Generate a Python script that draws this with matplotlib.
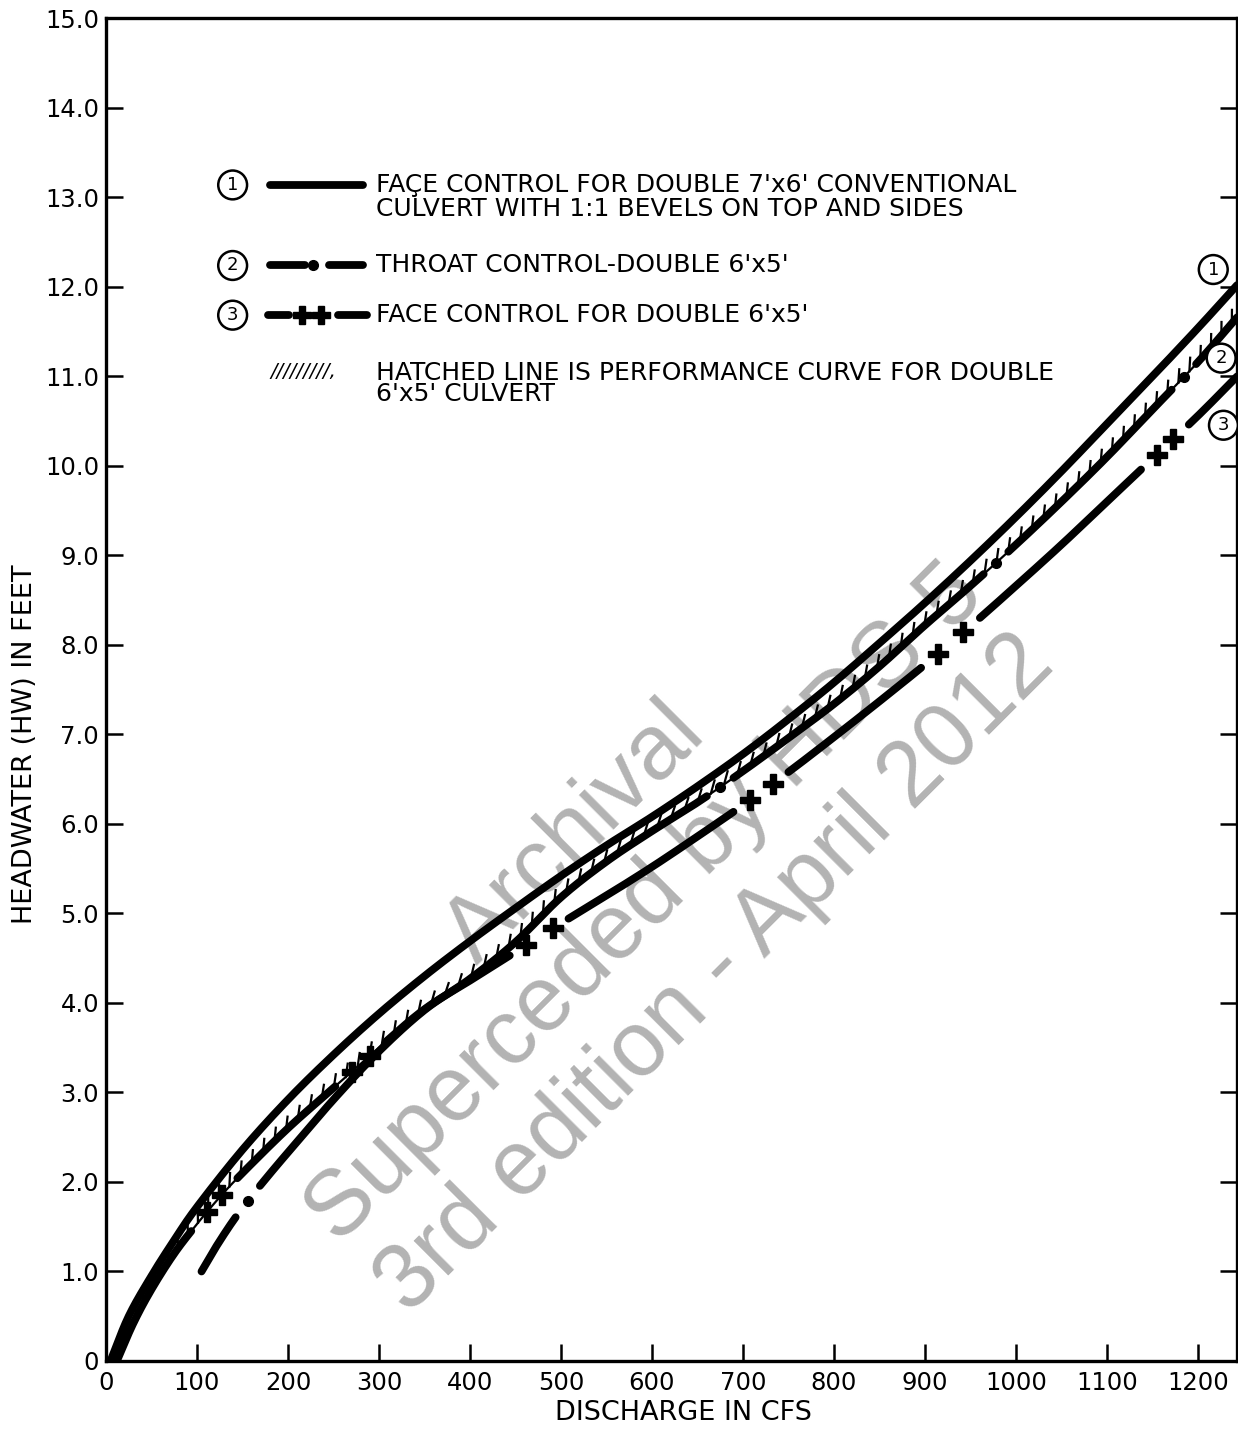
import numpy as np
import matplotlib
matplotlib.use("Agg")
import matplotlib.pyplot as plt
from matplotlib import patheffects

plt.rcParams['font.family'] = ['DejaVu Sans']

# curve 1: face control, double 7'x6' conventional culvert with bevels
c1_x = [5, 25, 50, 75, 100, 150, 200, 250, 300, 350, 400, 450, 500, 550, 600, 650,
        700, 750, 800, 850, 900, 950, 1000, 1050, 1100, 1150, 1200, 1243]
c1_y = [0, 0.5, 0.95, 1.35, 1.72, 2.36, 2.92, 3.42, 3.88, 4.3, 4.69, 5.06, 5.42, 5.76,
        6.08, 6.42, 6.78, 7.17, 7.58, 8.02, 8.47, 8.94, 9.43, 9.94, 10.47, 11.0, 11.54,
        12.02]

# curve 2: throat control, double 6'x5'
c2_x = [105, 120, 140, 160, 180, 200, 250, 300, 350, 400, 450, 500, 550, 600, 650,
        700, 750, 800, 850, 900, 950, 1000, 1050, 1100, 1150, 1200, 1243]
c2_y = [1.0, 1.26, 1.57, 1.84, 2.09, 2.33, 2.92, 3.46, 3.92, 4.27, 4.68, 5.18, 5.58,
        5.92, 6.24, 6.59, 6.96, 7.34, 7.76, 8.22, 8.66, 9.12, 9.6, 10.1, 10.63, 11.16,
        11.66]
# dots that break curve 2 into its long dashes
c2_dot_x = [156, 675, 978, 1185]

# curve 3: face control, double 6'x5'
c3_x = [12, 30, 50, 75, 100, 125, 150, 200, 250, 300, 350, 400, 450, 500, 550, 600,
        650, 700, 750, 800, 850, 900, 950, 1000, 1050, 1100, 1150, 1200, 1243]
c3_y = [0, 0.42, 0.8, 1.2, 1.53, 1.83, 2.1, 2.6, 3.05, 3.5, 3.93, 4.25, 4.57, 4.89,
        5.2, 5.52, 5.86, 6.21, 6.58, 6.97, 7.37, 7.78, 8.21, 8.66, 9.12, 9.6, 10.08,
        10.56, 11.0]
# pairs of crosses along curve 3
cross_x = [111, 127, 270, 290, 462, 491, 708, 733, 914, 942, 1155, 1173]

y_ticks = list(range(0, 16))
y_labels = ['0'] + [f'{v}.0' for v in range(1, 16)]
x_ticks = list(range(0, 1300, 100))
x_labels = [str(v) for v in x_ticks]


def smooth(xs, ys, n=24):
    # Catmull-Rom through the read points, only for drawing
    pts = np.column_stack([xs, ys]).astype(float)
    p = np.vstack([2 * pts[0] - pts[1], pts, 2 * pts[-1] - pts[-2]])
    t = np.linspace(0, 1, n, endpoint=False)[:, None]
    out = []
    for i in range(1, len(p) - 2):
        p0, p1, p2, p3 = p[i - 1], p[i], p[i + 1], p[i + 2]
        out.append(0.5 * (2 * p1 + (p2 - p0) * t
                          + (2 * p0 - 5 * p1 + 4 * p2 - p3) * t ** 2
                          + (3 * p1 - p0 - 3 * p2 + p3) * t ** 3))
    out.append(pts[-1:])
    out = np.vstack(out)
    return out[:, 0], out[:, 1]


fig = plt.figure(figsize=(12.38, 14.32), dpi=100)
ax = fig.add_axes([0.0856, 0.0496, 0.9136, 0.9375])
ax.set_xlim(0, 1243)
ax.set_ylim(0, 15)

for s in ax.spines.values():
    s.set_linewidth(2.4)

ax.set_yticks(y_ticks)
ax.set_yticklabels(y_labels)
ax.set_xticks(x_ticks)
ax.set_xticklabels(x_labels)
ax.tick_params(axis='y', direction='in', length=12, width=1.8, labelsize=17.5, pad=5,
               right=True)
ax.tick_params(axis='x', direction='in', length=12, width=1.8, labelsize=17.5, pad=7)

lw = 5.6
s1x, s1y = smooth(c1_x, c1_y)
s2x, s2y = smooth(c2_x, c2_y)
s3x, s3y = smooth(c3_x, c3_y)

# curve 1
ax.plot(s1x, s1y, color='black', lw=lw, solid_capstyle='round', zorder=3)

# curve 2: long dashes split by single dots
y2m = s2y.copy()
for d in c2_dot_x:
    y2m[np.abs(s2x - d) < 13] = np.nan
ax.plot(s2x, y2m, color='black', lw=lw, solid_capstyle='round', zorder=3)
ax.plot(c2_dot_x, np.interp(c2_dot_x, s2x, s2y), ls='none', marker='o', ms=7,
        color='black', zorder=3)

# curve 3 with gaps around each pair of crosses
y3m = s3y.copy()
for a, b in zip(cross_x[0::2], cross_x[1::2]):
    y3m[(s3x > a - 17) & (s3x < b + 17)] = np.nan
ax.plot(s3x, y3m, color='black', lw=lw, solid_capstyle='round', zorder=3)
ax.plot(cross_x, np.interp(cross_x, s3x, s3y), ls='none', marker='P', ms=14,
        color='black', zorder=4)

# hatched performance curve = upper envelope of curves 2 and 3
xp = np.linspace(30, 1243, 2000)
perf = np.maximum(np.interp(xp, s3x, s3y),
                  np.interp(xp, s2x, s2y, left=-np.inf))
ax.plot(xp, perf, color='black', lw=1.6, zorder=5,
        path_effects=[patheffects.withTickedStroke(spacing=11.5, angle=40,
                                                   length=0.85)])

# watermark
ax.text(0.477, 0.340, 'Archival\nSuperceded by HDS-5\n3rd edition - April 2012',
        transform=ax.transAxes, fontsize=66, color='#b3b3b3', rotation=45,
        rotation_mode='anchor', ha='center', va='center', multialignment='center',
        family='Liberation Sans', zorder=1)

# legend block
circ = dict(boxstyle='circle,pad=0.3', fc='white', ec='black', lw=1.8)
tx = 0.239
fs = 18
ax.text(0.112, 0.876, '1', transform=ax.transAxes, fontsize=13, ha='center',
        va='center', bbox=circ)
ax.plot([0.145, 0.227], [0.876, 0.876], transform=ax.transAxes, color='black',
        lw=lw, solid_capstyle='round')
ax.text(tx, 0.867, "FAÇE CONTROL FOR DOUBLE 7'x6' CONVENTIONAL\n"
        "CULVERT WITH 1:1 BEVELS ON TOP AND SIDES", transform=ax.transAxes,
        fontsize=fs, ha='left', va='center', linespacing=0.98)

ax.text(0.112, 0.816, '2', transform=ax.transAxes, fontsize=13, ha='center',
        va='center', bbox=circ)
ax.plot([0.145, 0.176], [0.816, 0.816], transform=ax.transAxes, color='black',
        lw=lw, solid_capstyle='round')
ax.plot([0.183], [0.816], transform=ax.transAxes, marker='o', ms=7, color='black')
ax.plot([0.197, 0.227], [0.816, 0.816], transform=ax.transAxes, color='black',
        lw=lw, solid_capstyle='round')
ax.text(tx, 0.816, "THROAT CONTROL-DOUBLE 6'x5'", transform=ax.transAxes,
        fontsize=fs, ha='left', va='center')

ax.text(0.112, 0.779, '3', transform=ax.transAxes, fontsize=13, ha='center',
        va='center', bbox=circ)
ax.plot([0.143, 0.162], [0.779, 0.779], transform=ax.transAxes, color='black',
        lw=lw, solid_capstyle='round')
ax.plot([0.173, 0.190], [0.779, 0.779], transform=ax.transAxes, ls='none',
        marker='P', ms=13, color='black')
ax.plot([0.205, 0.231], [0.779, 0.779], transform=ax.transAxes, color='black',
        lw=lw, solid_capstyle='round')
ax.text(tx, 0.779, "FACE CONTROL FOR DOUBLE 6'x5'", transform=ax.transAxes,
        fontsize=fs, ha='left', va='center')

ax.text(0.145, 0.737, '/////////,', transform=ax.transAxes, fontsize=14, ha='left',
        va='center', style='italic')
ax.text(tx, 0.728, "HATCHED LINE IS PERFORMANCE CURVE FOR DOUBLE\n6'x5' CULVERT",
        transform=ax.transAxes, fontsize=fs, ha='left', va='center', linespacing=0.88)

# curve numbers at the right edge
ax.text(0.979, 0.813, '1', transform=ax.transAxes, fontsize=13, ha='center',
        va='center', bbox=circ, zorder=6)
ax.text(0.986, 0.747, '2', transform=ax.transAxes, fontsize=13, ha='center',
        va='center', bbox=circ, zorder=6)
ax.text(0.988, 0.697, '3', transform=ax.transAxes, fontsize=13, ha='center',
        va='center', bbox=circ, zorder=6)

fig.text(0.552, 0.0133, 'DISCHARGE IN CFS', fontsize=19.5, ha='center', va='center')
fig.text(0.020, 0.480, 'HEADWATER (HW) IN FEET', fontsize=19.5, ha='center',
         va='center', rotation=90)

fig.savefig('out.png', dpi=100)
